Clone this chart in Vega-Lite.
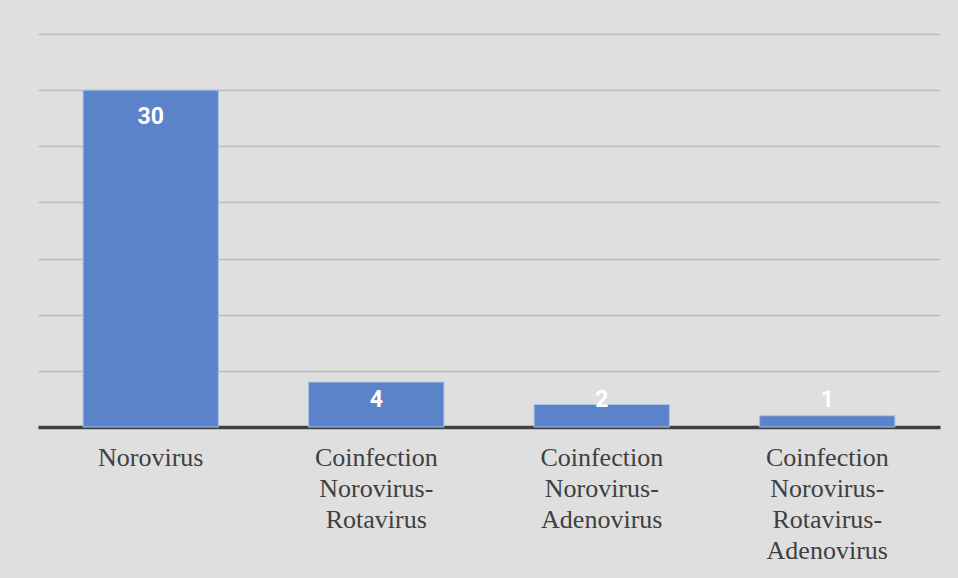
{
  "$schema": "https://vega.github.io/schema/vega-lite/v6.json",
  "autosize": {"type": "none"},
  "width": 902,
  "height": 393,
  "padding": {"left": 38, "top": 34, "right": 18, "bottom": 151},
  "background": "#dfdfdf",
  "config": {"view": {"stroke": null}},
  "data": {"values": [
    {"category": "Norovirus", "count": 30},
    {"category": "Coinfection Norovirus-Rotavirus", "count": 4},
    {"category": "Coinfection Norovirus-Adenovirus", "count": 2},
    {"category": "Coinfection Norovirus-Rotavirus-Adenovirus", "count": 1}
  ]},
  "encoding": {
    "x": {
      "field": "category", "type": "nominal", "sort": null,
      "scale": {"paddingInner": 0.4, "paddingOuter": 0.2},
      "axis": {
        "title": null, "ticks": false, "labelAngle": 0,
        "domainColor": "#404040", "domainWidth": 3.5,
        "labelFont": "Liberation Serif", "labelFontSize": 26, "labelColor": "#404040",
        "labelLineHeight": 31, "labelPadding": 17, "labelBaseline": "top",
        "labelExpr": "split(replace(replace(datum.label, ' ', '|'), regexp('-', 'g'), '-|'), '|')"
      }
    }
  },
  "layer": [
    {
      "mark": {"type": "bar", "color": "#5b83c9", "stroke": "#a9c0e6", "strokeWidth": 1},
      "encoding": {
        "y": {
          "field": "count", "type": "quantitative",
          "scale": {"domain": [0, 35], "nice": false},
          "axis": {
            "title": null, "labels": false, "ticks": false, "domain": false,
            "values": [0, 5, 10, 15, 20, 25, 30, 35],
            "gridColor": "#bdbdbd", "gridWidth": 1.5
          }
        }
      }
    },
    {
      "transform": [{"calculate": "max(datum.count, 4.8)", "as": "labelPos"}],
      "mark": {"type": "text", "color": "white", "font": "Roboto", "fontWeight": "bold", "fontSize": 23, "baseline": "middle", "dy": 27},
      "encoding": {
        "y": {"field": "labelPos", "type": "quantitative", "scale": {"domain": [0, 35], "nice": false}},
        "text": {"field": "count", "type": "quantitative"}
      }
    },
    {
      "mark": {"type": "rule", "color": "#404040", "strokeWidth": 3.5},
      "encoding": {"y": {"datum": 0, "type": "quantitative"}}
    }
  ]
}
